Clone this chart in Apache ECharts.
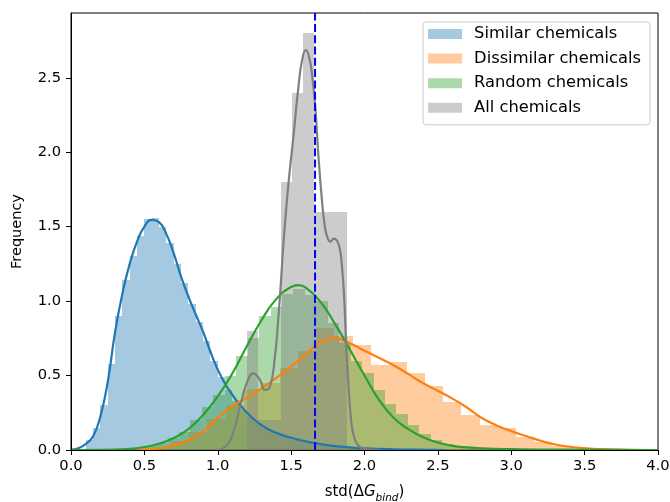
<!DOCTYPE html>
<html>
<head>
<meta charset="utf-8">
<script src="https://cdn.jsdelivr.net/npm/echarts@6/dist/echarts.min.js"></script>
<style>
html,body{margin:0;padding:0;background:#fff;}
#chart{width:670px;height:502px;}
</style>
</head>
<body>
<div id="chart"></div>
<script>
// ---------------- data ----------------
const seriesNames = ['Similar chemicals', 'Dissimilar chemicals', 'Random chemicals', 'All chemicals'];
const xTicks = [0, 0.5, 1, 1.5, 2, 2.5, 3, 3.5, 4];
const yTicks = [0, 0.5, 1, 1.5, 2, 2.5];
const vLineX = 1.663;

// histograms: first bin edge, bin width, bar heights
const similarBinStart = 0.1, similarBinWidth = 0.05;
const similarHeights = [0.07,0.15,0.30,0.58,0.90,1.14,1.30,1.44,1.55,1.56,1.50,1.39,1.25,1.12,0.98,0.86,0.73,0.60,0.49,0.40,
  0.33,0.27,0.22,0.18,0.15,0.12,0.10,0.085,0.07,0.06,0.05,0.042,0.035,0.03,0.024,0.019,0.015,0.012,0.01,0.008,
  0.006,0.005,0.004,0.003,0.003,0.002,0.002];

const dissimilarBinStart = 0.559, dissimilarBinWidth = 0.1236;
const dissimilarHeights = [0.02,0.06,0.12,0.21,0.30,0.41,0.45,0.55,0.664,0.82,0.765,0.705,0.57,0.59,0.515,0.43,0.32,0.235,0.168,0.146,
  0.089,0.056,0.03,0.015,0.005];

const randomBinStart = 0.424, randomBinWidth = 0.078;
const randomHeights = [0.015,0.03,0.05,0.08,0.12,0.20,0.29,0.37,0.50,0.63,0.75,0.90,0.96,1.05,1.08,1.04,1.00,0.85,0.72,0.60,
  0.52,0.40,0.31,0.24,0.17,0.11,0.07,0.04,0.025,0.015,0.01,0.005];

const allBinStart = 1.2, allBinWidth = 0.0759;
const allHeights = [0.80,0.20,0.20,1.80,2.40,2.80,1.60,1.60,1.60];

// KDE curves [x, density]
const similarKde = [[0,0.003],[0.05,0.012],[0.1,0.04],[0.15,0.09],[0.2,0.225],[0.25,0.455],[0.3,0.79],[0.35,1.05],[0.4,1.25],
  [0.45,1.40],[0.5,1.50],[0.55,1.545],[0.6,1.53],[0.65,1.45],[0.7,1.32],[0.75,1.165],[0.8,1.03],[0.85,0.91],[0.9,0.795],
  [0.95,0.66],[1.0,0.54],[1.05,0.445],[1.1,0.37],[1.15,0.305],[1.2,0.25],[1.3,0.165],[1.4,0.115],[1.5,0.082],[1.6,0.058],
  [1.7,0.04],[1.8,0.026],[1.9,0.017],[2.0,0.011],[2.2,0.005],[2.4,0.002],[2.55,0]];
const dissimilarKde = [[0.45,0],[0.6,0.01],[0.7,0.03],[0.8,0.065],[0.9,0.125],[1.0,0.215],[1.1,0.295],[1.2,0.352],[1.3,0.415],
  [1.4,0.485],[1.5,0.56],[1.6,0.643],[1.7,0.722],[1.8,0.75],[1.9,0.717],[2.0,0.667],[2.1,0.618],[2.2,0.568],[2.3,0.51],
  [2.4,0.448],[2.5,0.398],[2.6,0.345],[2.7,0.284],[2.8,0.215],[2.9,0.165],[3.0,0.127],[3.1,0.094],[3.2,0.062],[3.3,0.037],
  [3.4,0.022],[3.5,0.012],[3.6,0.006],[3.8,0.001],[3.9,0]];
const randomKde = [[0,0],[0.2,0.001],[0.4,0.008],[0.5,0.02],[0.6,0.042],[0.7,0.08],[0.8,0.14],[0.9,0.235],[1.0,0.36],[1.1,0.515],
  [1.2,0.70],[1.3,0.875],[1.4,1.015],[1.5,1.095],[1.55,1.107],[1.6,1.09],[1.7,0.995],[1.8,0.845],[1.9,0.675],[2.0,0.50],
  [2.1,0.335],[2.2,0.215],[2.3,0.14],[2.4,0.085],[2.5,0.05],[2.6,0.028],[2.7,0.017],[2.8,0.011],[3.0,0.006],[3.3,0.002],[4.0,0]];
const allKde = [[1.0,0],[1.049,0.022],[1.095,0.089],[1.152,0.29],[1.197,0.447],[1.243,0.515],[1.288,0.47],[1.322,0.403],[1.356,0.425],
  [1.39,0.63],[1.41,0.85],[1.43,1.12],[1.45,1.42],[1.48,1.77],[1.515,2.10],[1.55,2.44],[1.575,2.62],[1.60,2.685],[1.625,2.63],
  [1.645,2.50],[1.665,2.30],[1.685,1.99],[1.708,1.70],[1.73,1.50],[1.75,1.42],[1.77,1.40],[1.79,1.42],[1.81,1.41],[1.83,1.36],
  [1.845,1.25],[1.86,1.05],[1.875,0.72],[1.89,0.45],[1.905,0.24],[1.925,0.10],[1.95,0.04],[1.98,0.015],[2.02,0.005],[2.1,0]];

// ---------------- build ----------------
const lineColors = ['#1f77b4', '#ff7f0e', '#2ca02c', '#7f7f7f'];
const barColors = ['rgba(31,119,180,0.4)', 'rgba(255,127,14,0.4)', 'rgba(44,160,44,0.4)', 'rgba(127,127,127,0.4)'];
const FONT = 'DejaVu Sans';
const FS = 14.7;

function binData(start, width, heights) {
  return heights.map((h, i) => [start + i * width, start + (i + 1) * width, h]);
}
const hists = [
  binData(similarBinStart, similarBinWidth, similarHeights),
  binData(dissimilarBinStart, dissimilarBinWidth, dissimilarHeights),
  binData(randomBinStart, randomBinWidth, randomHeights),
  binData(allBinStart, allBinWidth, allHeights)
];
const kdes = [similarKde, dissimilarKde, randomKde, allKde];

function renderBar(params, api) {
  const p0 = api.coord([api.value(0), api.value(2)]);
  const p1 = api.coord([api.value(1), 0]);
  const x0 = Math.round(p0[0]), x1 = Math.round(p1[0]);
  const y0 = Math.round(p0[1]), y1 = Math.round(p1[1]);
  return {
    type: 'rect',
    shape: { x: x0, y: y0, width: x1 - x0, height: y1 - y0 },
    style: { fill: api.visual('color') }
  };
}

const series = [];
hists.forEach((d, i) => {
  series.push({
    name: seriesNames[i], type: 'custom', renderItem: renderBar, data: d,
    encode: { x: [0, 1], y: 2 }, itemStyle: { color: barColors[i] }, z: 2, clip: true
  });
});
kdes.forEach((d, i) => {
  series.push({
    name: seriesNames[i] + ' kde', type: 'line', data: d, showSymbol: false, symbol: 'none',
    smooth: 0.5, lineStyle: { color: lineColors[i], width: 2.2 }, z: 3, clip: true
  });
});
series.push({
  name: 'threshold', type: 'line', data: [[vLineX, 0], [vLineX, 2.935]], symbol: 'none',
  lineStyle: { color: '#0000ff', width: 2, type: [8, 3.3] }, z: 4
});

const chart = echarts.init(document.getElementById('chart'), null, { renderer: 'canvas' });
chart.setOption({
  animation: false,
  backgroundColor: '#fff',
  grid: { left: 71, right: 12, top: 13, bottom: 52, outerBoundsMode: 'none', containLabel: false,
          show: true, borderColor: '#000', borderWidth: 1, backgroundColor: 'transparent' },
  legend: {
    data: seriesNames.map(n => ({ name: n, icon: 'rect' })),
    orient: 'vertical', right: 20, top: 22,
    padding: [3, 9, 8, 5], itemGap: 6.6, itemWidth: 34, itemHeight: 10,
    borderColor: '#cccccc', borderWidth: 1, borderRadius: 3, backgroundColor: 'rgba(255,255,255,0.8)',
    textStyle: { fontFamily: FONT, fontSize: 16.3, color: '#000', lineHeight: 18, padding: [0, 0, 0, 7] },
    selectedMode: false, z: 10
  },
  xAxis: {
    type: 'value', min: 0, max: 4, interval: 0.5, z: 10,
    axisLine: { show: true, lineStyle: { color: '#000', width: 1 } },
    axisTick: { show: true, length: 5, lineStyle: { color: '#000' }, customValues: xTicks },
    axisLabel: { fontFamily: FONT, fontSize: FS, color: '#000', margin: 9, customValues: xTicks, formatter: v => v.toFixed(1) },
    splitLine: { show: false },
    name: '{n|std(Δ}{i|G}{s|bind}{n|)}', nameLocation: 'middle', nameGap: 35,
    nameTextStyle: {
      fontFamily: FONT, fontSize: 15, color: '#000',
      rich: {
        n: { fontFamily: FONT, fontSize: 15, color: '#000', lineHeight: 19, verticalAlign: 'top' },
        i: { fontFamily: FONT, fontSize: 15, color: '#000', fontStyle: 'italic', lineHeight: 19, verticalAlign: 'top' },
        s: { fontFamily: FONT, fontSize: 10.5, color: '#000', fontStyle: 'italic', lineHeight: 12, verticalAlign: 'bottom' }
      }
    }
  },
  yAxis: {
    type: 'value', min: 0, max: 2.935, interval: 0.5, z: 10,
    axisLine: { show: true, lineStyle: { color: '#000', width: 1 } },
    axisTick: { show: true, length: 5, lineStyle: { color: '#000' }, customValues: yTicks },
    axisLabel: { fontFamily: FONT, fontSize: FS, color: '#000', margin: 10, customValues: yTicks, formatter: v => v.toFixed(1) },
    splitLine: { show: false },
    name: 'Frequency', nameLocation: 'middle', nameGap: 46, nameRotate: 90,
    nameTextStyle: { fontFamily: FONT, fontSize: 14.5, color: '#000' }
  },
  series: series
});
</script>
</body>
</html>
